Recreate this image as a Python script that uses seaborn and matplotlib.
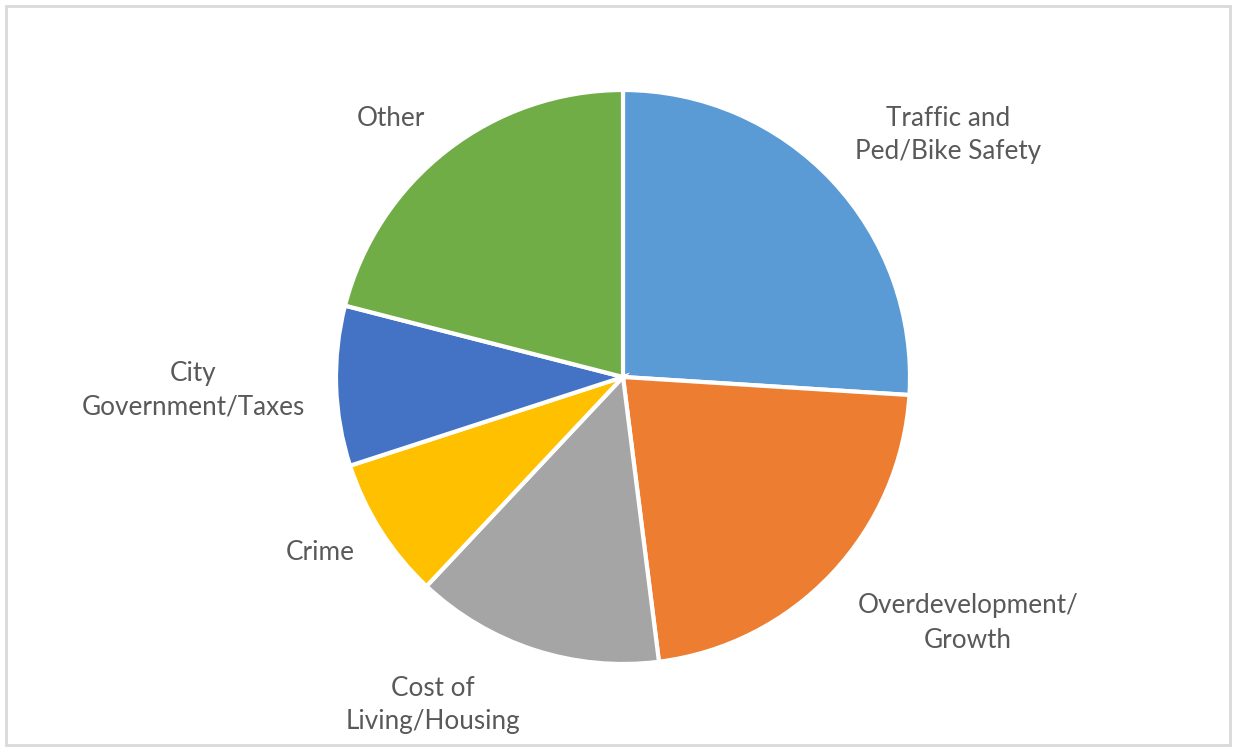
import matplotlib
matplotlib.use("Agg")
import matplotlib.pyplot as plt
import seaborn as sns
from matplotlib.patches import Rectangle

categories = ["Traffic and\nPed/Bike Safety", "Overdevelopment/\nGrowth", "Cost of\nLiving/Housing",
              "Crime", "City\nGovernment/Taxes", "Other"]
values = [26, 22, 14, 8, 9, 21]
colors = ["#5B9BD5", "#ED7D31", "#A5A5A5", "#FFC000", "#4472C4", "#70AD47"]

sns.set_theme(style="white")
plt.rcParams['font.family'] = ['Lato', 'DejaVu Sans']

W, H = 1235, 749
fig = plt.figure(figsize=(W / 100, H / 100), dpi=100)
ax = fig.add_axes([0, 0, 1, 1])

cx, cy, r = 623, H - 377, 287
ax.pie(values, colors=colors, startangle=90, counterclock=False, center=(cx, cy), radius=r,
       wedgeprops=dict(edgecolor="white", linewidth=3), frame=False)
ax.set_xlim(0, W)
ax.set_ylim(0, H)
ax.set_aspect("equal")
ax.axis("off")

label_pos = [(948, 135), (968, 623), (433, 705), (320, 553), (193, 390), (391, 118)]
for lab, (x, y) in zip(categories, label_pos):
    ax.text(x, H - y, lab, ha="center", va="center", fontsize=18.8, color="#595959",
            linespacing=1.45)

ax.add_patch(Rectangle((6, H - 745), 1224, 739, fill=False, edgecolor="#D9D9D9", linewidth=2))

fig.savefig("out.png", dpi=100)
